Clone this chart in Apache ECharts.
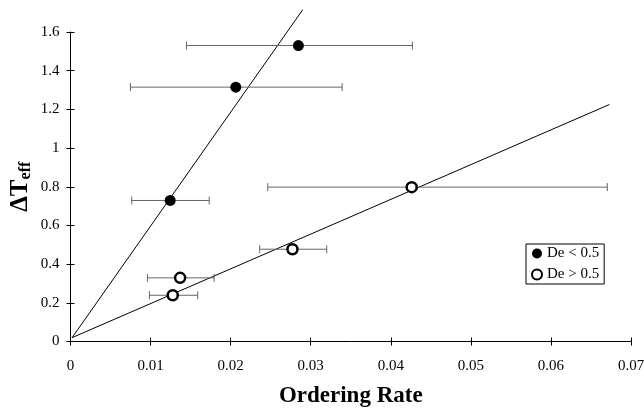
<!DOCTYPE html>
<html>
<head>
<meta charset="utf-8">
<script src="https://cdn.jsdelivr.net/npm/echarts@6/dist/echarts.min.js"></script>
<style>html,body{margin:0;padding:0;background:#fff}#c{width:644px;height:409px}</style>
</head>
<body>
<div id="c"></div>
<script>
// Filled points: De < 0.5
var filledX = [0.02846, 0.02064, 0.01245];
var filledY = [1.530, 1.315, 0.729];
var filledLo = [0.01448, 0.00749, 0.00765];
var filledHi = [0.04270, 0.03392, 0.01732];
// Open points: De > 0.5
var openX = [0.04261, 0.02772, 0.01369, 0.01277];
var openY = [0.798, 0.477, 0.329, 0.239];
var openLo = [0.02463, 0.02363, 0.00961, 0.00986];
var openHi = [0.06704, 0.03200, 0.01794, 0.01589];
// Fit lines
var steepX = [0.0002, 0.0290];
var steepY = [0.02, 1.715];
var shallowX = [0.0002, 0.0673];
var shallowY = [0.02, 1.225];
// Axis ticks
var xTicks = [0, 0.01, 0.02, 0.03, 0.04, 0.05, 0.06, 0.07];
var yTicks = [0, 0.2, 0.4, 0.6, 0.8, 1, 1.2, 1.4, 1.6];
var xName = 'Ordering Rate';
var legendNames = ['De < 0.5', 'De > 0.5'];

var FONT = 'Liberation Serif';
function zip(a, b) { return a.map(function (v, i) { return [v, b[i]]; }); }
function errData(x, y, lo, hi) { return x.map(function (v, i) { return [lo[i], hi[i], y[i]]; }); }
function errRender(params, api) {
  var p1 = api.coord([api.value(0), api.value(2)]);
  var p2 = api.coord([api.value(1), api.value(2)]);
  var h = 4;
  var st = { stroke: '#666', lineWidth: 1 };
  return { type: 'group', children: [
    { type: 'line', shape: { x1: p1[0], y1: p1[1], x2: p2[0], y2: p2[1] }, style: st },
    { type: 'line', shape: { x1: p1[0], y1: p1[1] - h, x2: p1[0], y2: p1[1] + h }, style: st },
    { type: 'line', shape: { x1: p2[0], y1: p2[1] - h, x2: p2[0], y2: p2[1] + h }, style: st }
  ]};
}
var xFmt = function (v) { return v === 0 ? '0' : String(+v.toFixed(2)); };
var yFmt = function (v) { return String(+v.toFixed(1)); };

var chart = echarts.init(document.getElementById('c'));
chart.setOption({
  animation: false,
  backgroundColor: '#fff',
  grid: { left: 70.5, right: 13, top: 32, bottom: 67.5, containLabel: false, outerBoundsMode: 'none' },
  legend: {
    orient: 'vertical', left: 526, top: 244,
    data: [{ name: legendNames[0] }, { name: legendNames[1] }],
    itemWidth: 10, itemHeight: 10, itemGap: 6,
    borderColor: '#000', borderWidth: 1, padding: [2, 5, 2, 5],
    textStyle: { fontFamily: FONT, fontSize: 15, color: '#000' }
  },
  xAxis: [{
    type: 'value', min: 0, max: 0.07, interval: 0.01, position: 'bottom',
    splitLine: { show: false },
    axisLine: { lineStyle: { color: '#000', width: 1 } },
    axisTick: { length: 4, lineStyle: { color: '#000' } },
    axisLabel: { fontFamily: FONT, fontSize: 15, color: '#000', margin: 17, formatter: xFmt },
    name: xName, nameLocation: 'middle', nameGap: 43, nameMoveOverlap: false,
    nameTextStyle: { fontFamily: FONT, fontSize: 23, fontWeight: 'bold', color: '#000' }
  }, {
    type: 'value', min: 0, max: 0.07, interval: 0.01, position: 'bottom', offset: 0,
    splitLine: { show: false }, axisLine: { show: false },
    axisTick: { inside: true, length: 4, lineStyle: { color: '#000' } },
    axisLabel: { show: false }
  }],
  yAxis: [{
    type: 'value', min: 0, max: 1.6, interval: 0.2, position: 'left',
    splitLine: { show: false },
    axisLine: { show: true, lineStyle: { color: '#000', width: 1 } },
    axisTick: { show: true, length: 4, lineStyle: { color: '#000' } },
    axisLabel: { fontFamily: FONT, fontSize: 15, color: '#000', margin: 11, formatter: yFmt },
    name: '{d|ΔT}{s|eff}', nameLocation: 'middle', nameGap: 37, nameRotate: 90, nameMoveOverlap: false,
    nameTextStyle: {
      rich: {
        d: { fontFamily: FONT, fontSize: 25, fontWeight: 'bold', color: '#000', lineHeight: 26 },
        s: { fontFamily: FONT, fontSize: 16, fontWeight: 'bold', color: '#000', verticalAlign: 'bottom', padding: [6, 0, 0, 0] }
      }
    }
  }, {
    type: 'value', min: 0, max: 1.6, interval: 0.2, position: 'left', offset: 0,
    splitLine: { show: false }, axisLine: { show: false },
    axisTick: { show: true, inside: true, length: 4, lineStyle: { color: '#000' } },
    axisLabel: { show: false }
  }],
  series: [
    { type: 'line', data: zip(steepX, steepY), showSymbol: false, clip: false,
      lineStyle: { color: '#000', width: 1 }, silent: true, z: 1 },
    { type: 'line', data: zip(shallowX, shallowY), showSymbol: false, clip: false,
      lineStyle: { color: '#000', width: 1 }, silent: true, z: 1 },
    { type: 'custom', renderItem: errRender, data: errData(filledX, filledY, filledLo, filledHi), clip: false, z: 2 },
    { type: 'custom', renderItem: errRender, data: errData(openX, openY, openLo, openHi), clip: false, z: 2 },
    { name: legendNames[0], type: 'scatter', data: zip(filledX, filledY), symbol: 'circle', symbolSize: 11,
      itemStyle: { color: '#000', opacity: 1 }, z: 5 },
    { name: legendNames[1], type: 'scatter', data: zip(openX, openY), symbol: 'circle', symbolSize: 10,
      itemStyle: { color: '#fff', borderColor: '#000', borderWidth: 2.5, opacity: 1 }, z: 5 }
  ]
});
</script>
</body>
</html>
